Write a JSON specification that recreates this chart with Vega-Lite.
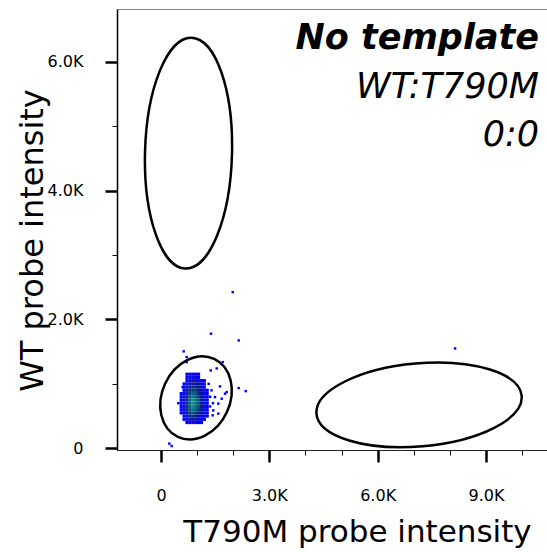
{
  "$schema": "https://vega.github.io/schema/vega-lite/v6.json",
  "width": 431,
  "height": 441,
  "autosize": "none",
  "padding": {"left": 117, "top": 9, "right": 0, "bottom": 102},
  "background": "white",
  "config": {
    "view": {"stroke": "#888888", "strokeWidth": 1},
    "axis": {"labelFont": "DejaVu Sans", "titleFont": "DejaVu Sans", "labelColor": "black", "titleColor": "black", "titleFontWeight": "normal", "grid": false}
  },
  "title": {
    "text": "No template",
    "subtitle": ["WT:T790M", "0:0"],
    "anchor": "end",
    "frame": "group",
    "orient": "top",
    "offset": -144,
    "dx": -9,
    "font": "DejaVu Sans",
    "fontSize": 35,
    "fontStyle": "italic",
    "fontWeight": "bold",
    "color": "black",
    "subtitleFont": "DejaVu Sans",
    "subtitleFontSize": 35,
    "subtitleFontStyle": "italic",
    "subtitleFontWeight": "normal",
    "subtitleColor": "black",
    "subtitleLineHeight": 48.5,
    "subtitlePadding": 14
  },
  "datasets": {
    "cells": [
      {"x":720,"y":400,"d":1},{"x":800,"y":400,"d":1},{"x":880,"y":400,"d":2},{"x":960,"y":400,"d":2},{"x":1040,"y":400,"d":1},{"x":1120,"y":400,"d":1},
      {"x":640,"y":450,"d":1},{"x":720,"y":450,"d":1},{"x":800,"y":450,"d":3},{"x":880,"y":450,"d":3},{"x":960,"y":450,"d":3},{"x":1040,"y":450,"d":2},{"x":1120,"y":450,"d":1},{"x":1200,"y":450,"d":1},
      {"x":640,"y":500,"d":1},{"x":720,"y":500,"d":2},{"x":800,"y":500,"d":4},{"x":880,"y":500,"d":5},{"x":960,"y":500,"d":4},{"x":1040,"y":500,"d":3},{"x":1120,"y":500,"d":2},{"x":1200,"y":500,"d":1},{"x":1280,"y":500,"d":1},
      {"x":560,"y":550,"d":1},{"x":640,"y":550,"d":1},{"x":720,"y":550,"d":3},{"x":800,"y":550,"d":6},{"x":880,"y":550,"d":7},{"x":960,"y":550,"d":6},{"x":1040,"y":550,"d":5},{"x":1120,"y":550,"d":3},{"x":1200,"y":550,"d":2},{"x":1280,"y":550,"d":1},
      {"x":560,"y":600,"d":1},{"x":640,"y":600,"d":2},{"x":720,"y":600,"d":4},{"x":800,"y":600,"d":7},{"x":880,"y":600,"d":9},{"x":960,"y":600,"d":8},{"x":1040,"y":600,"d":6},{"x":1120,"y":600,"d":4},{"x":1200,"y":600,"d":2},{"x":1280,"y":600,"d":1},
      {"x":560,"y":650,"d":1},{"x":640,"y":650,"d":2},{"x":720,"y":650,"d":5},{"x":800,"y":650,"d":8},{"x":880,"y":650,"d":10},{"x":960,"y":650,"d":9},{"x":1040,"y":650,"d":7},{"x":1120,"y":650,"d":4},{"x":1200,"y":650,"d":2},{"x":1280,"y":650,"d":1},
      {"x":560,"y":700,"d":1},{"x":640,"y":700,"d":2},{"x":720,"y":700,"d":5},{"x":800,"y":700,"d":8},{"x":880,"y":700,"d":10},{"x":960,"y":700,"d":9},{"x":1040,"y":700,"d":7},{"x":1120,"y":700,"d":4},{"x":1200,"y":700,"d":2},{"x":1280,"y":700,"d":1},
      {"x":560,"y":750,"d":1},{"x":640,"y":750,"d":2},{"x":720,"y":750,"d":4},{"x":800,"y":750,"d":8},{"x":880,"y":750,"d":10},{"x":960,"y":750,"d":9},{"x":1040,"y":750,"d":7},{"x":1120,"y":750,"d":4},{"x":1200,"y":750,"d":2},{"x":1280,"y":750,"d":1},
      {"x":560,"y":800,"d":1},{"x":640,"y":800,"d":2},{"x":720,"y":800,"d":4},{"x":800,"y":800,"d":7},{"x":880,"y":800,"d":9},{"x":960,"y":800,"d":8},{"x":1040,"y":800,"d":6},{"x":1120,"y":800,"d":4},{"x":1200,"y":800,"d":2},{"x":1280,"y":800,"d":1},
      {"x":560,"y":850,"d":1},{"x":640,"y":850,"d":1},{"x":720,"y":850,"d":4},{"x":800,"y":850,"d":6},{"x":880,"y":850,"d":8},{"x":960,"y":850,"d":7},{"x":1040,"y":850,"d":5},{"x":1120,"y":850,"d":3},{"x":1200,"y":850,"d":2},{"x":1280,"y":850,"d":1},
      {"x":640,"y":900,"d":1},{"x":720,"y":900,"d":3},{"x":800,"y":900,"d":5},{"x":880,"y":900,"d":6},{"x":960,"y":900,"d":6},{"x":1040,"y":900,"d":4},{"x":1120,"y":900,"d":3},{"x":1200,"y":900,"d":2},{"x":1280,"y":900,"d":1},
      {"x":640,"y":950,"d":1},{"x":720,"y":950,"d":2},{"x":800,"y":950,"d":4},{"x":880,"y":950,"d":5},{"x":960,"y":950,"d":5},{"x":1040,"y":950,"d":4},{"x":1120,"y":950,"d":2},{"x":1200,"y":950,"d":1},
      {"x":640,"y":1000,"d":1},{"x":720,"y":1000,"d":2},{"x":800,"y":1000,"d":3},{"x":880,"y":1000,"d":4},{"x":960,"y":1000,"d":3},{"x":1040,"y":1000,"d":3},{"x":1120,"y":1000,"d":2},{"x":1200,"y":1000,"d":1},
      {"x":720,"y":1050,"d":1},{"x":800,"y":1050,"d":2},{"x":880,"y":1050,"d":3},{"x":960,"y":1050,"d":3},{"x":1040,"y":1050,"d":2},{"x":1120,"y":1050,"d":1},{"x":1200,"y":1050,"d":1},
      {"x":720,"y":1100,"d":1},{"x":800,"y":1100,"d":2},{"x":880,"y":1100,"d":2},{"x":960,"y":1100,"d":2},{"x":1040,"y":1100,"d":1},
      {"x":720,"y":1150,"d":1},{"x":800,"y":1150,"d":1},{"x":880,"y":1150,"d":1},{"x":960,"y":1150,"d":1},{"x":1040,"y":1150,"d":1}
    ],
    "outliers": [
      {"x":1986,"y":2423},{"x":1385,"y":1778},{"x":2152,"y":1674},{"x":629,"y":1504},{"x":712,"y":1416},{"x":712,"y":1338},
      {"x":1709,"y":1338},{"x":1377,"y":1209},{"x":1543,"y":1240},{"x":2152,"y":935},{"x":2346,"y":888},{"x":1634,"y":961},
      {"x":1773,"y":848},{"x":1820,"y":873},{"x":1496,"y":795},{"x":1681,"y":770},{"x":1587,"y":693},{"x":1449,"y":589},
      {"x":1432,"y":512},{"x":1587,"y":538},{"x":230,"y":73},{"x":296,"y":36},{"x":8144,"y":1550},{"x":1360,"y":650},
      {"x":1440,"y":700},{"x":1360,"y":800},{"x":1400,"y":900},{"x":1320,"y":1000},{"x":600,"y":950},{"x":480,"y":700}
    ]
  },
  "layer": [
    {
      "data": {"name": "cells"},
      "mark": {"type": "point", "shape": "square", "filled": true, "size": 10, "opacity": 1, "strokeWidth": 0},
      "encoding": {
        "x": {
          "field": "x", "type": "quantitative",
          "scale": {"domain": [-1218, 10717], "nice": false, "zero": false},
          "axis": {
            "orient": "bottom",
            "values": [0,1000,2000,3000,4000,5000,6000,7000,8000,9000,10000],
            "labelExpr": "datum.value % 3000 === 0 ? (datum.value === 0 ? '0' : format(datum.value / 1000, '.1f') + 'K') : ''",
            "labelOverlap": false,
            "labelFlush": false,
            "labelFontSize": 16,
            "labelBaseline": "top",
            "labelPadding": 25,
            "tickColor": "black",
            "tickSize": {"condition": {"test": "datum.value % 3000 === 0", "value": 12}, "value": 5},
            "tickWidth": {"condition": {"test": "datum.value % 3000 === 0", "value": 2.5}, "value": 1},
            "domainColor": "#222222",
            "domainWidth": 1,
            "title": "T790M probe intensity",
            "titleFontSize": 31,
            "titleX": 240,
            "titleY": 91,
            "titleAlign": "center",
            "titleBaseline": "alphabetic"
          }
        },
        "y": {
          "field": "y", "type": "quantitative",
          "scale": {"domain": [-26, 6817], "nice": false, "zero": false},
          "axis": {
            "orient": "left",
            "values": [0,500,1000,1500,2000,2500,3000,3500,4000,4500,5000,5500,6000,6500],
            "labelExpr": "datum.value % 2000 === 0 ? (datum.value === 0 ? '0' : format(datum.value / 1000, '.1f') + 'K') : ''",
            "labelOverlap": false,
            "labelFlush": false,
            "labelFontSize": 16,
            "labelAlign": "right",
            "labelBaseline": "middle",
            "labelPadding": 22,
            "tickColor": "black",
            "tickSize": {"condition": {"test": "datum.value % 2000 === 0", "value": 12}, "value": 5},
            "tickWidth": {"condition": {"test": "datum.value % 2000 === 0", "value": 2.5}, "value": 1},
            "domainColor": "black",
            "domainWidth": 1.5,
            "title": "WT probe intensity",
            "titleFontSize": 32,
            "titleX": -75,
            "titleY": 231,
            "titleAngle": -90,
            "titleAlign": "center",
            "titleBaseline": "alphabetic"
          }
        },
        "color": {
          "field": "d", "type": "quantitative",
          "scale": {"domain": [1, 2, 3, 5, 7, 10], "range": ["#0000ff", "#0a0ae0", "#0c10a8", "#10287e", "#17507a", "#208a85"]},
          "legend": null
        }
      }
    },
    {
      "data": {"name": "outliers"},
      "mark": {"type": "point", "shape": "square", "filled": true, "size": 6, "opacity": 1, "strokeWidth": 0, "color": "#0000ff"},
      "encoding": {
        "x": {"field": "x", "type": "quantitative"},
        "y": {"field": "y", "type": "quantitative"}
      }
    },
    {
      "data": {"values": [{"x": 762, "y": 4581}]},
      "mark": {"type": "point", "shape": "M43.5,0 C43.5,63.79 24.02,115.5 0,115.5 C-24.02,115.5 -43.5,63.79 -43.5,0 C-43.5,-63.79 -24.02,-115.5 0,-115.5 C24.02,-115.5 43.5,-63.79 43.5,0 Z", "size": 4, "filled": false, "stroke": "black", "strokeWidth": 2.5, "opacity": 1, "angle": 1.5},
      "encoding": {
        "x": {"field": "x", "type": "quantitative"},
        "y": {"field": "y", "type": "quantitative"}
      }
    },
    {
      "data": {"values": [{"x": 970, "y": 783}]},
      "mark": {"type": "point", "shape": "M34,0 C34,23.75 18.78,43 0,43 C-18.78,43 -34,23.75 -34,0 C-34,-23.75 -18.78,-43 0,-43 C18.78,-43 34,-23.75 34,0 Z", "size": 4, "filled": false, "stroke": "black", "strokeWidth": 2.5, "opacity": 1, "angle": 25},
      "encoding": {
        "x": {"field": "x", "type": "quantitative"},
        "y": {"field": "y", "type": "quantitative"}
      }
    },
    {
      "data": {"values": [{"x": 7147, "y": 674}]},
      "mark": {"type": "point", "shape": "M103,0 C103,22.92 56.89,41.5 0,41.5 C-56.89,41.5 -103,22.92 -103,0 C-103,-22.92 -56.89,-41.5 0,-41.5 C56.89,-41.5 103,-22.92 103,0 Z", "size": 4, "filled": false, "stroke": "black", "strokeWidth": 2.5, "opacity": 1, "angle": -5},
      "encoding": {
        "x": {"field": "x", "type": "quantitative"},
        "y": {"field": "y", "type": "quantitative"}
      }
    }
  ]
}
